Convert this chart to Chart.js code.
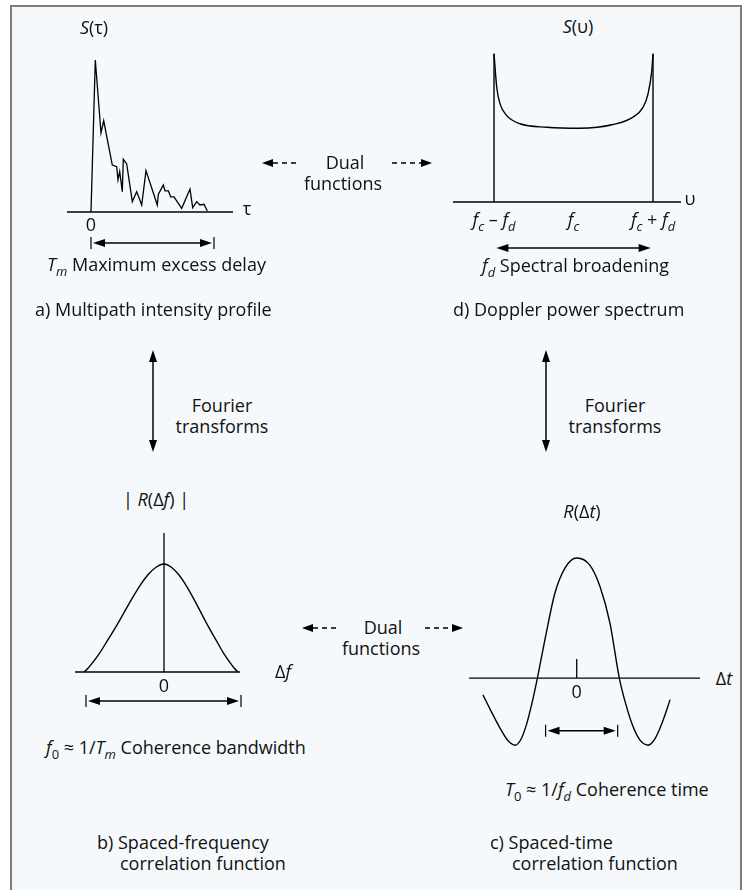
<!DOCTYPE html>
<html><head><meta charset="utf-8">
<script src="https://cdn.jsdelivr.net/npm/chart.js@4.4.0/dist/chart.umd.min.js"></script>
<style>
html,body{margin:0;padding:0;background:#fff;}
#page{position:relative;width:746px;height:890px;overflow:hidden;font-family:'Open Sans',sans-serif;font-size:18px;color:#111;}
#frame{position:absolute;left:10px;top:5px;width:732px;height:900px;border:2px solid #7c7c7c;background:#f5f9fb;box-sizing:border-box;}
.t{position:absolute;white-space:nowrap;line-height:1.2;}
canvas{position:absolute;}
sub{font-size:72%;vertical-align:-0.38em;line-height:0;}
svg{position:absolute;left:0;top:0;}
</style></head>
<body><div id="page"><div id="frame"></div>
<svg id="ov" width="746" height="890"></svg>
</div>
<script>
// ---------- data ----------
// a) multipath intensity profile S(tau)
const tauVals = [0,0.43,1.0,1.27,2.13,2.57,2.7,2.87,3.13,3.23,3.57,4.13,4.57,5.07,5.5,6.63,6.73,7.23,7.4,7.73,7.97,8.3,9.07,9.9,10.17,10.57,10.9,11.3,11.63];
const multipathPower = [0,10,5.2,6.0,3.09,2.98,2.11,2.65,1.34,3.47,3.16,0.68,1.34,0.46,2.72,0.46,1.16,1.78,1.39,1.39,1.0,1.0,0.24,1.51,0.28,0.68,0.46,0.51,0.07];
const excessDelayRange = [0, 12.3];
const tauTicks = [0];
const tauTickLabels = ['0'];
// d) Doppler power spectrum S(nu)
const dopplerNu = [-1,-0.966,-0.925,-0.84,-0.673,-0.337,0.082,0.497,0.748,0.874,0.937,0.984,1];
const dopplerPower = [1.99,1.54,1.32,1.16,1.05,1.004,0.99,1.04,1.14,1.27,1.45,1.76,1.99];
const dopplerEdges = [-1, 1];
const dopplerEdgeHeight = 1.99;
const spectralRange = [-0.97, 0.97];
const nuTicks = [-1, 0, 1];
const nuTickLabels = ['<i>f<sub>c</sub></i> – <i>f<sub>d</sub></i>', '<i>f<sub>c</sub></i>', '<i>f<sub>c</sub></i> + <i>f<sub>d</sub></i>'];
// b) spaced-frequency correlation |R(df)|
const dfVals = [-8.0,-7.6,-7.2,-6.4,-5.6,-4.8,-4.0,-3.2,-2.4,-1.6,-0.8,0,0.74,1.48,2.22,2.96,3.7,4.44,5.18,5.92,6.66,7.03,7.4];
const freqCorr = [0,0.035,0.08,0.18,0.30,0.42,0.55,0.68,0.80,0.90,0.97,1,0.97,0.90,0.80,0.68,0.55,0.42,0.30,0.18,0.08,0.035,0];
const coherenceBandRange = [-7.8, 7.7];
const dfTicks = [0];
const dfTickLabels = ['0'];
// c) spaced-time correlation R(dt)
const dtVals = [-2.29,-2.10,-1.90,-1.68,-1.50,-1.36,-1.22,-1.10,-0.96,-0.77,-0.53,-0.28,0,0.32,0.57,0.81,1.04,1.20,1.37,1.55,1.74,1.92,2.10,2.28];
const timeCorr = [-0.14,-0.27,-0.40,-0.52,-0.56,-0.51,-0.38,-0.22,0,0.33,0.71,0.92,1.0,0.94,0.76,0.46,0,-0.22,-0.40,-0.52,-0.56,-0.50,-0.36,-0.18];
const coherenceTimeRange = [-0.76, 1.0];
const coherenceTimeLevel = -0.44;
const dtTicks = [0];
const dtTickLabels = ['0'];
const dtTickHeight = 0.158;

// ---------- helpers ----------
const page = document.getElementById('page');
function label(html, x, y, align) {
  const d = document.createElement('div');
  d.className = 't';
  d.innerHTML = html;
  d.style.left = x + 'px';
  d.style.top = y + 'px';
  d.style.transform = align === 'left' ? 'translate(0,-50%)' : 'translate(-50%,-50%)';
  page.appendChild(d);
  return d;
}
function pts(xs, ys) { return xs.map((x, i) => ({x: x, y: ys[i]})); }

function arrowHead(ctx, x, y, dir) {
  ctx.beginPath();
  ctx.moveTo(x, y);
  ctx.lineTo(x - dir * 12, y - 4);
  ctx.lineTo(x - dir * 12, y + 4);
  ctx.closePath();
  ctx.fill();
}
function rangeArrow(ctx, x1, x2, y, bars) {
  ctx.save();
  ctx.strokeStyle = '#000'; ctx.fillStyle = '#000'; ctx.lineWidth = 1.5;
  const a = bars ? x1 + 2 : x1, b = bars ? x2 - 2 : x2;
  ctx.beginPath(); ctx.moveTo(a + 6, y); ctx.lineTo(b - 6, y); ctx.stroke();
  arrowHead(ctx, a, y, -1);
  arrowHead(ctx, b, y, 1);
  if (bars) {
    ctx.lineWidth = 1.2;
    ctx.beginPath();
    ctx.moveTo(x1, y - 6); ctx.lineTo(x1, y + 6);
    ctx.moveTo(x2, y - 6); ctx.lineTo(x2, y + 6);
    ctx.stroke();
  }
  ctx.restore();
}

const decor = {
  id: 'decor',
  afterDatasetsDraw(chart, args, o) {
    const ctx = chart.ctx, xs = chart.scales.x, ys = chart.scales.y, ca = chart.chartArea;
    ctx.save();
    ctx.strokeStyle = '#000'; ctx.lineWidth = 1.3;
    const y0 = ys.getPixelForValue(0);
    ctx.beginPath(); ctx.moveTo(ca.left, y0); ctx.lineTo(ca.right, y0); ctx.stroke();
    if (o.vAxis) {
      const x0 = xs.getPixelForValue(0);
      ctx.beginPath(); ctx.moveTo(x0, ca.top); ctx.lineTo(x0, y0); ctx.stroke();
    }
    if (o.tick) {
      const x0 = xs.getPixelForValue(0);
      ctx.beginPath(); ctx.moveTo(x0, ys.getPixelForValue(o.tick)); ctx.lineTo(x0, y0); ctx.stroke();
    }
    ctx.restore();
    if (o.range) {
      const y = o.rangeLevel !== undefined ? ys.getPixelForValue(o.rangeLevel) : y0 + o.rangeOffset;
      rangeArrow(ctx, xs.getPixelForValue(o.range[0]), xs.getPixelForValue(o.range[1]), y, o.bars);
    }
  }
};

function makeChart(left, top, w, h, pad, xr, yr, datasets, decorOpts) {
  const c = document.createElement('canvas');
  c.width = w; c.height = h;
  c.style.left = left + 'px'; c.style.top = top + 'px';
  c.style.width = w + 'px'; c.style.height = h + 'px';
  page.appendChild(c);
  return new Chart(c, {
    type: 'scatter',
    data: { datasets: datasets.map(d => Object.assign({
      showLine: true, pointRadius: 0, borderColor: '#000', borderWidth: 1.4,
      fill: false, clip: 8, tension: 0
    }, d)) },
    options: {
      responsive: false, animation: false, devicePixelRatio: 1,
      layout: { padding: pad },
      plugins: { legend: { display: false }, tooltip: { enabled: false }, decor: decorOpts },
      events: [],
      scales: {
        x: { type: 'linear', display: false, min: xr[0], max: xr[1] },
        y: { type: 'linear', display: false, min: yr[0], max: yr[1] }
      }
    },
    plugins: [decor]
  });
}
function tickLabels(chart, left, top, vals, labels, y) {
  vals.forEach((v, i) => label(labels[i], left + chart.scales.x.getPixelForValue(v), y, 'center'));
}

// ---------- a) ----------
const A = {l: 40, t: 45};
const chA = makeChart(A.l, A.t, 220, 215, {left: 27, right: 27, top: 15, bottom: 48},
  [-2.4, 14.2], [0, 10],
  [{ data: pts(tauVals, multipathPower), borderWidth: 1.3 }],
  { range: excessDelayRange, rangeOffset: 31, bars: true });
tickLabels(chA, A.l, A.t, tauTicks, tauTickLabels, 225);

// ---------- d) ----------
const D = {l: 440, t: 40};
const chD = makeChart(D.l, D.t, 260, 220, {left: 13, right: 19, top: 13, bottom: 58},
  [-1.516, 1.352], [0, 2.0],
  [
    { data: pts(dopplerNu, dopplerPower), cubicInterpolationMode: 'monotone' },
    { data: [{x: dopplerEdges[0], y: 0}, {x: dopplerEdges[0], y: dopplerEdgeHeight}] },
    { data: [{x: dopplerEdges[1], y: 0}, {x: dopplerEdges[1], y: dopplerEdgeHeight}] }
  ],
  { range: spectralRange, rangeOffset: 46, bars: false });
tickLabels(chD, D.l, D.t, nuTicks, nuTickLabels, 220);

// ---------- b) ----------
const B = {l: 60, t: 520};
const chB = makeChart(B.l, B.t, 200, 200, {left: 15, right: 20, top: 13, bottom: 48},
  [-8.9, 7.6], [0, 1.287],
  [{ data: pts(dfVals, freqCorr), cubicInterpolationMode: 'monotone' }],
  { vAxis: true, range: coherenceBandRange, rangeOffset: 29, bars: true });
tickLabels(chB, B.l, B.t, dfTicks, dfTickLabels, 686);

// ---------- c) ----------
const C = {l: 455, t: 545};
const chC = makeChart(C.l, C.t, 260, 215, {left: 14, right: 15, top: 13, bottom: 15},
  [-2.63, 3.01], [-0.558, 1.0],
  [{ data: pts(dtVals, timeCorr), cubicInterpolationMode: 'monotone' }],
  { tick: dtTickHeight, range: coherenceTimeRange, rangeLevel: coherenceTimeLevel, bars: true });
tickLabels(chC, C.l, C.t, dtTicks, dtTickLabels, 692);

// ---------- text ----------
label('<i>S</i>(τ)', 94, 28);
label('τ', 247, 209);
label('<i>T<sub>m</sub></i> Maximum excess delay', 47, 265, 'left');
label('a) Multipath intensity profile', 35, 310, 'left');

label('<i>S</i>(υ)', 578, 27);
label('υ', 690, 199);
label('<i>f<sub>d</sub></i> Spectral broadening', 482, 266, 'left');
label('d) Doppler power spectrum', 453, 310, 'left');

label('Dual', 345, 163);
label('functions', 343, 184);
label('Dual', 383, 628);
label('functions', 381, 649);

label('Fourier', 222, 406);
label('transforms', 222, 427);
label('Fourier', 615, 406);
label('transforms', 615, 427);

label('| <i>R</i>(Δ<i>f</i>) |', 156, 500);
label('Δ<i>f</i>', 283, 672);
label('<i>f</i><sub>0</sub> ≈ 1/<i>T<sub>m</sub></i> Coherence bandwidth', 46, 748, 'left');
label('b) Spaced-frequency', 97, 843, 'left');
label('correlation function', 120, 864, 'left');

label('<i>R</i>(Δ<i>t</i>)', 582, 512);
label('Δ<i>t</i>', 724, 679);
label('<i>T</i><sub>0</sub> ≈ 1/<i>f<sub>d</sub></i> Coherence time', 505, 790, 'left');
label('c) Spaced-time', 490, 843, 'left');
label('correlation function', 512, 864, 'left');

// ---------- connector arrows (svg) ----------
const ov = document.getElementById('ov');
const NS = 'http://www.w3.org/2000/svg';
function svgEl(tag, attrs) { const e = document.createElementNS(NS, tag); for (const k in attrs) e.setAttribute(k, attrs[k]); ov.appendChild(e); return e; }
function dualArrow(x1, x2, gap1, gap2, y) {
  svgEl('polygon', {points: `${x1},${y} ${x1+11},${y-4} ${x1+11},${y+4}`, fill: '#000'});
  svgEl('line', {x1: x1 + 11, y1: y, x2: gap1, y2: y, stroke: '#000', 'stroke-width': 1.3, 'stroke-dasharray': '5,4'});
  svgEl('line', {x1: gap2, y1: y, x2: x2 - 11, y2: y, stroke: '#000', 'stroke-width': 1.3, 'stroke-dasharray': '5,4'});
  svgEl('polygon', {points: `${x2},${y} ${x2-11},${y-4} ${x2-11},${y+4}`, fill: '#000'});
}
dualArrow(262, 432, 300, 392, 163);
dualArrow(302, 463, 340, 425, 628);
function vArrow(x, y1, y2) {
  svgEl('line', {x1: x, y1: y1 + 8, x2: x, y2: y2 - 8, stroke: '#000', 'stroke-width': 1.5});
  svgEl('polygon', {points: `${x},${y1} ${x-4},${y1+12} ${x+4},${y1+12}`, fill: '#000'});
  svgEl('polygon', {points: `${x},${y2} ${x-4},${y2-12} ${x+4},${y2-12}`, fill: '#000'});
}
vArrow(153, 350, 452);
vArrow(546, 350, 452);
</script>
</body></html>
